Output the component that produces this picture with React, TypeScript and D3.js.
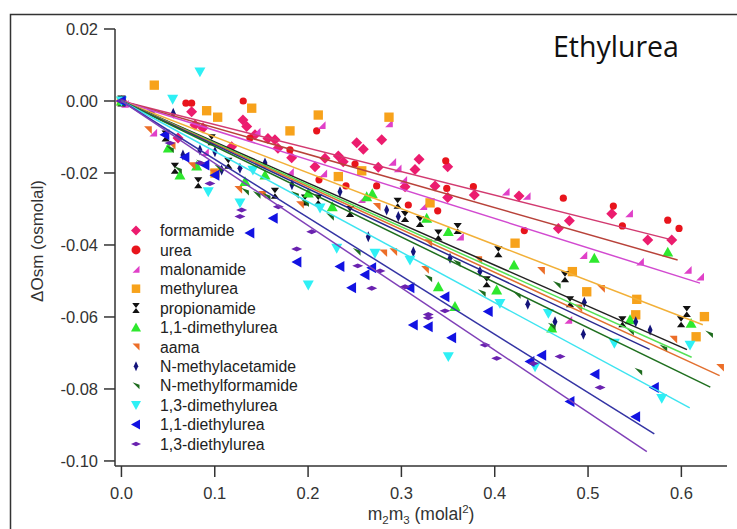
import React from "react";
import * as d3 from "d3";

type Pt = [number, number];

const seriesNames = [
  "formamide", "urea", "malonamide", "methylurea", "propionamide", "1,1-dimethylurea",
  "aama", "N-methylacetamide", "N-methylformamide", "1,3-dimethylurea", "1,1-diethylurea", "1,3-diethylurea",
];
const markerShapes = ["diamond", "circle", "rtri", "square", "hourglass", "up", "dtri", "vdiamond", "dtri2", "down", "left", "hdiamond"];
const markerColors = ["#ec1c6e", "#e8141c", "#e040c8", "#f7a21b", "#111111", "#2ee82e", "#ec6e28", "#14147a", "#1d6b1d", "#2ef0f5", "#1212e2", "#6a22b0"];
const lineColors = ["#d23a70", "#b8423a", "#d24ad0", "#f2b038", "#222222", "#55e055", "#e27030", "#2a2a90", "#1f6f1f", "#3ee4f0", "#3434a4", "#8040b8"];

// fitted slopes (osmolal per molal^2) and the x extent of each fit line
const fitSlopes = [-0.0654, -0.0741, -0.0816, -0.0998, -0.114, -0.1165, -0.119, -0.1219, -0.126, -0.140, -0.162, -0.173];
const fitXMax = [0.59, 0.596, 0.62, 0.623, 0.606, 0.611, 0.641, 0.566, 0.631, 0.609, 0.571, 0.563];

const formamide: Pt[] = [[0, 0], [0.0606, -0.0103], [0.0752, -0.003], [0.0788, -0.0067], [0.0874, -0.0075], [0.1181, -0.0127], [0.1302, -0.0053], [0.1342, -0.0071], [0.1431, -0.0094], [0.157, -0.0104], [0.1645, -0.0108], [0.1677, -0.0131], [0.1824, -0.0158], [0.2074, -0.0183], [0.2181, -0.0159], [0.2324, -0.0153], [0.2377, -0.0169], [0.2521, -0.0116], [0.2592, -0.0134], [0.2752, -0.0184], [0.2789, -0.0108], [0.3039, -0.0238], [0.3146, -0.019], [0.3189, -0.0162], [0.336, -0.0236], [0.3496, -0.0183], [0.3496, -0.0268], [0.3781, -0.0261], [0.426, -0.0264], [0.4682, -0.0354], [0.48, -0.0333], [0.5254, -0.0313], [0.564, -0.0386], [0.5897, -0.0386]];
const urea: Pt[] = [[0, 0], [0.0691, -0.0006], [0.0752, -0.0006], [0.1305, 0.0], [0.1377, -0.0103], [0.1806, -0.0136], [0.2092, -0.0083], [0.2117, -0.0219], [0.2406, -0.0236], [0.2503, -0.0175], [0.2735, -0.0236], [0.3074, -0.0289], [0.3389, -0.0305], [0.3475, -0.0166], [0.3486, -0.0243], [0.3771, -0.0238], [0.4317, -0.036], [0.4735, -0.027], [0.5271, -0.0292], [0.5368, -0.0347], [0.5854, -0.0331], [0.5975, -0.0354]];
const malonamide: Pt[] = [[0, 0], [0.0038, -0.0008], [0.0341, -0.0088], [0.0895, -0.0142], [0.1449, -0.0085], [0.1806, -0.0197], [0.2146, -0.0067], [0.2163, -0.0201], [0.2574, -0.0273], [0.2867, -0.0062], [0.2902, -0.0169], [0.296, -0.0187], [0.302, -0.0219], [0.3235, -0.0292], [0.3628, -0.0377], [0.4118, -0.0252], [0.4343, -0.0264], [0.495, -0.0428], [0.544, -0.0312], [0.5557, -0.0446], [0.6069, -0.0469], [0.6201, -0.0488], [0.4789, -0.0608]];
const methylurea: Pt[] = [[0, 0], [0.0352, 0.0044], [0.0913, -0.0027], [0.1031, -0.0045], [0.1396, -0.002], [0.1806, -0.0083], [0.2109, -0.0039], [0.2867, -0.0045], [0.1002, -0.02], [0.2324, -0.021], [0.2575, -0.0194], [0.3307, -0.0283], [0.4218, -0.0395], [0.4832, -0.0474], [0.4986, -0.053], [0.5522, -0.0551], [0.5511, -0.0594], [0.6247, -0.0599], [0.6158, -0.0655]];
const propionamide: Pt[] = [[0, 0], [0.0474, -0.0097], [0.0573, -0.0187], [0.0823, -0.0227], [0.0967, -0.0108], [0.1145, -0.0173], [0.1645, -0.0256], [0.1967, -0.0275], [0.2109, -0.0275], [0.2449, -0.0307], [0.296, -0.0284], [0.3039, -0.0321], [0.3199, -0.0335], [0.3396, -0.0372], [0.3603, -0.0354], [0.3914, -0.0502], [0.4039, -0.0419], [0.4753, -0.0488], [0.4807, -0.0558], [0.5368, -0.0613], [0.5997, -0.0613], [0.6058, -0.0585]];
const dimethylurea11: Pt[] = [[0, 0], [0.0502, -0.0131], [0.0627, -0.0206], [0.0806, -0.0181], [0.1324, -0.0224], [0.1538, -0.0206], [0.2002, -0.0256], [0.2259, -0.0294], [0.2628, -0.0266], [0.2688, -0.0258], [0.3271, -0.0326], [0.3503, -0.0363], [0.3396, -0.0516], [0.3574, -0.0571], [0.4021, -0.0525], [0.4207, -0.0456], [0.4611, -0.0631], [0.5067, -0.0437], [0.545, -0.0608], [0.5854, -0.042], [0.6104, -0.0618]];
const aama: Pt[] = [[0, 0], [0.0284, -0.0081], [0.0538, -0.0125], [0.0752, -0.0181], [0.0984, -0.0201], [0.1252, -0.0247], [0.1506, -0.0261], [0.1913, -0.0289], [0.2735, -0.0294], [0.2806, -0.0423], [0.2913, -0.042], [0.3253, -0.0469], [0.3288, -0.0395], [0.3824, -0.0442], [0.4496, -0.0472], [0.4896, -0.0576], [0.5139, -0.0522], [0.5914, -0.0663], [0.6415, -0.0741]];
const nMethylacetamide: Pt[] = [[0, 0], [0.0555, -0.0034], [0.0659, -0.015], [0.0841, -0.0136], [0.1002, -0.0141], [0.1074, -0.0192], [0.127, -0.0187], [0.1538, -0.0172], [0.1827, -0.0233], [0.2342, -0.0252], [0.2645, -0.0377], [0.2842, -0.0303], [0.2967, -0.0321], [0.3128, -0.0419], [0.3521, -0.0437], [0.3842, -0.0474], [0.4354, -0.0565], [0.4646, -0.0613], [0.496, -0.0559], [0.495, -0.0648], [0.5511, -0.0613], [0.5665, -0.0636]];
const nMethylformamide: Pt[] = [[0, 0], [0.052, -0.0134], [0.0606, -0.0192], [0.0841, -0.0173], [0.1038, -0.0187], [0.1324, -0.0252], [0.1449, -0.0261], [0.1556, -0.0266], [0.186, -0.0261], [0.1967, -0.0284], [0.2235, -0.0322], [0.2521, -0.0419], [0.3288, -0.0493], [0.3593, -0.0451], [0.3861, -0.0534], [0.4236, -0.0539], [0.4665, -0.0511], [0.4611, -0.0627], [0.545, -0.0641], [0.5807, -0.0687], [0.5539, -0.0752], [0.6297, -0.0648]];
const dimethylurea13: Pt[] = [[0, 0], [0.0549, 0.0005], [0.0841, 0.0081], [0.093, -0.0252], [0.127, -0.0283], [0.1409, -0.0192], [0.2128, -0.0297], [0.2307, -0.0409], [0.2002, -0.0511], [0.2717, -0.0423], [0.3092, -0.0442], [0.3503, -0.071], [0.4056, -0.0562], [0.4432, -0.0738], [0.4575, -0.059], [0.5282, -0.0673], [0.579, -0.0826], [0.6093, -0.0678]];
const diethylurea11: Pt[] = [[0, 0], [0.0466, -0.0094], [0.0681, -0.0156], [0.0895, -0.0178], [0.1002, -0.0206], [0.1377, -0.0367], [0.1627, -0.0326], [0.1881, -0.0447], [0.2342, -0.046], [0.2467, -0.0519], [0.261, -0.0483], [0.2682, -0.0463], [0.3092, -0.0519], [0.3128, -0.0622], [0.3288, -0.0627], [0.3467, -0.0544], [0.3539, -0.0658], [0.3931, -0.0585], [0.4378, -0.0724], [0.4504, -0.0706], [0.4807, -0.0835], [0.5075, -0.0759], [0.5511, -0.0877], [0.5711, -0.0796]];
const diethylurea13: Pt[] = [[0, 0], [0.0305, -0.0031], [0.052, -0.0117], [0.0841, -0.0172], [0.0948, -0.0229], [0.127, -0.0321], [0.1288, -0.0303], [0.1681, -0.0294], [0.1878, -0.0411], [0.2039, -0.0363], [0.2532, -0.0458], [0.2682, -0.052], [0.2771, -0.0472], [0.3039, -0.0516], [0.3288, -0.0593], [0.3288, -0.0602], [0.3467, -0.0583], [0.3896, -0.0678], [0.4021, -0.0715], [0.4414, -0.0729], [0.47, -0.071], [0.5129, -0.0796]];

const seriesData: Pt[][] = [formamide, urea, malonamide, methylurea, propionamide, dimethylurea11, aama, nMethylacetamide, nMethylformamide, dimethylurea13, diethylurea11, diethylurea13];

const xTicks = [0, 0.1, 0.2, 0.3, 0.4, 0.5, 0.6];
const yTicks = [0.02, 0, -0.02, -0.04, -0.06, -0.08, -0.1];

function markerPath(shape: string, s: number): string {
  const h = s / 2;
  switch (shape) {
    case "diamond": return `M0,${-h}L${h},0L0,${h}L${-h},0Z`;
    case "vdiamond": return `M0,${-h}L${h * 0.45},0L0,${h}L${-h * 0.45},0Z`;
    case "hdiamond": return `M${-h},0L0,${-h * 0.45}L${h},0L0,${h * 0.45}Z`;
    case "square": return `M${-h * 0.85},${-h * 0.85}H${h * 0.85}V${h * 0.85}H${-h * 0.85}Z`;
    case "up": return `M0,${-h}L${h},${h * 0.8}L${-h},${h * 0.8}Z`;
    case "down": return `M${-h},${-h * 0.8}L${h},${-h * 0.8}L0,${h}Z`;
    case "left": return `M${-h},0L${h * 0.8},${-h}L${h * 0.8},${h}Z`;
    case "rtri": return `M${-h * 0.7},${h * 0.7}L${h * 0.7},${h * 0.7}L${h * 0.7},${-h * 0.7}Z`;
    case "dtri": return `M${-h * 0.7},${-h * 0.7}L${h * 0.7},${-h * 0.7}L${h * 0.7},${h * 0.7}Z`;
    case "dtri2": return `M${-h * 0.7},${-h * 0.7}L${h * 0.7},${-h * 0.2}L${h * 0.7},${h * 0.7}Z`;
    case "hourglass": return `M${-h * 0.75},${-h}H${h * 0.75}L${-h * 0.75},${h}H${h * 0.75}Z`;
    default: return "";
  }
}

const W = 737;
const H = 529;

export default function App() {
  const x = d3.scaleLinear().domain([-0.0069, 0.6489]).range([115, 727]);
  const y = d3.scaleLinear().domain([0.02, -0.1014]).range([29, 466]);
  const fx = (v: number) => d3.format(".1f")(v).replace("−", "-");
  const fy = (v: number) => d3.format(".2f")(v).replace("−", "-");
  const line = d3.line<Pt>().x((d) => x(d[0])).y((d) => y(d[1]));
  const font = "'Liberation Sans', Arial, sans-serif";
  const axisColor = "#333";
  const legendY0 = 230.5;
  const legendDy = 19.4;
  const ms = 11;

  return (
    <svg width={W} height={H} style={{ position: "absolute", left: 0, top: 0, background: "#fff" }}>
      <rect x={0} y={0} width={W} height={H} fill="#fff" />
      <path d={`M10.5,${H + 2}V14.5H${W + 2}`} fill="none" stroke="#333" strokeWidth={1.5} />

      {/* markers */}
      {seriesData.map((pts, si) => (
        <g key={"m" + si} fill={markerColors[si]}>
          {pts.map((p, i) =>
            markerShapes[si] === "circle" ? (
              <circle key={i} cx={x(p[0])} cy={y(p[1])} r={3.6} />
            ) : (
              <path key={i} d={markerPath(markerShapes[si], ms)} transform={`translate(${x(p[0])},${y(p[1])})`} />
            )
          )}
        </g>
      ))}

      {/* fit lines */}
      {fitSlopes.map((s, si) => (
        <path key={"l" + si} d={line([[0, 0], [fitXMax[si], s * fitXMax[si]]]) || ""} stroke={lineColors[si]} strokeWidth={1.5} fill="none" />
      ))}

      {/* axes */}
      <line x1={115} x2={115} y1={y(0.02)} y2={466} stroke={axisColor} strokeWidth={1.5} />
      <line x1={115} x2={727} y1={466} y2={466} stroke={axisColor} strokeWidth={1.5} />
      {yTicks.map((t) => (
        <g key={"yt" + t}>
          <line x1={104} x2={115} y1={y(t)} y2={y(t)} stroke={axisColor} strokeWidth={1.5} />
          <text x={98} y={y(t)} dy="0.36em" textAnchor="end" fontFamily={font} fontSize={16.5} fill="#333">{fy(t)}</text>
        </g>
      ))}
      {xTicks.map((t) => (
        <g key={"xt" + t}>
          <line x1={x(t)} x2={x(t)} y1={466} y2={477} stroke={axisColor} strokeWidth={1.5} />
          <text x={x(t)} y={499} textAnchor="middle" fontFamily={font} fontSize={16.5} fill="#333">{fx(t)}</text>
        </g>
      ))}

      <text x={421} y={520} textAnchor="middle" fontFamily={font} fontSize={17.5} fill="#333">
        m<tspan fontSize={11.5} dy={4}>2</tspan><tspan dy={-4}>m</tspan><tspan fontSize={11.5} dy={4}>3</tspan><tspan dy={-4}> (molal</tspan><tspan fontSize={11.5} dy={-7}>2</tspan><tspan dy={7}>)</tspan>
      </text>
      <text transform="translate(43,241) rotate(-90)" textAnchor="middle" fontFamily={font} fontSize={17} fill="#333">ΔOsm (osmolal)</text>

      <text x={553} y={57} fontFamily="'Open Sans', sans-serif" fontSize={28.5} fill="#111">Ethylurea</text>

      {/* legend */}
      {seriesNames.map((n, i) => {
        const ly = legendY0 + i * legendDy;
        return (
          <g key={"lg" + i}>
            {markerShapes[i] === "circle" ? (
              <circle cx={136} cy={ly} r={4.5} fill={markerColors[i]} />
            ) : (
              <path d={markerPath(markerShapes[i], 10)} transform={`translate(136,${ly})`} fill={markerColors[i]} />
            )}
            <text x={160} y={ly} dy="0.36em" fontFamily={font} fontSize={15.8} fill="#222">{n}</text>
          </g>
        );
      })}
    </svg>
  );
}
